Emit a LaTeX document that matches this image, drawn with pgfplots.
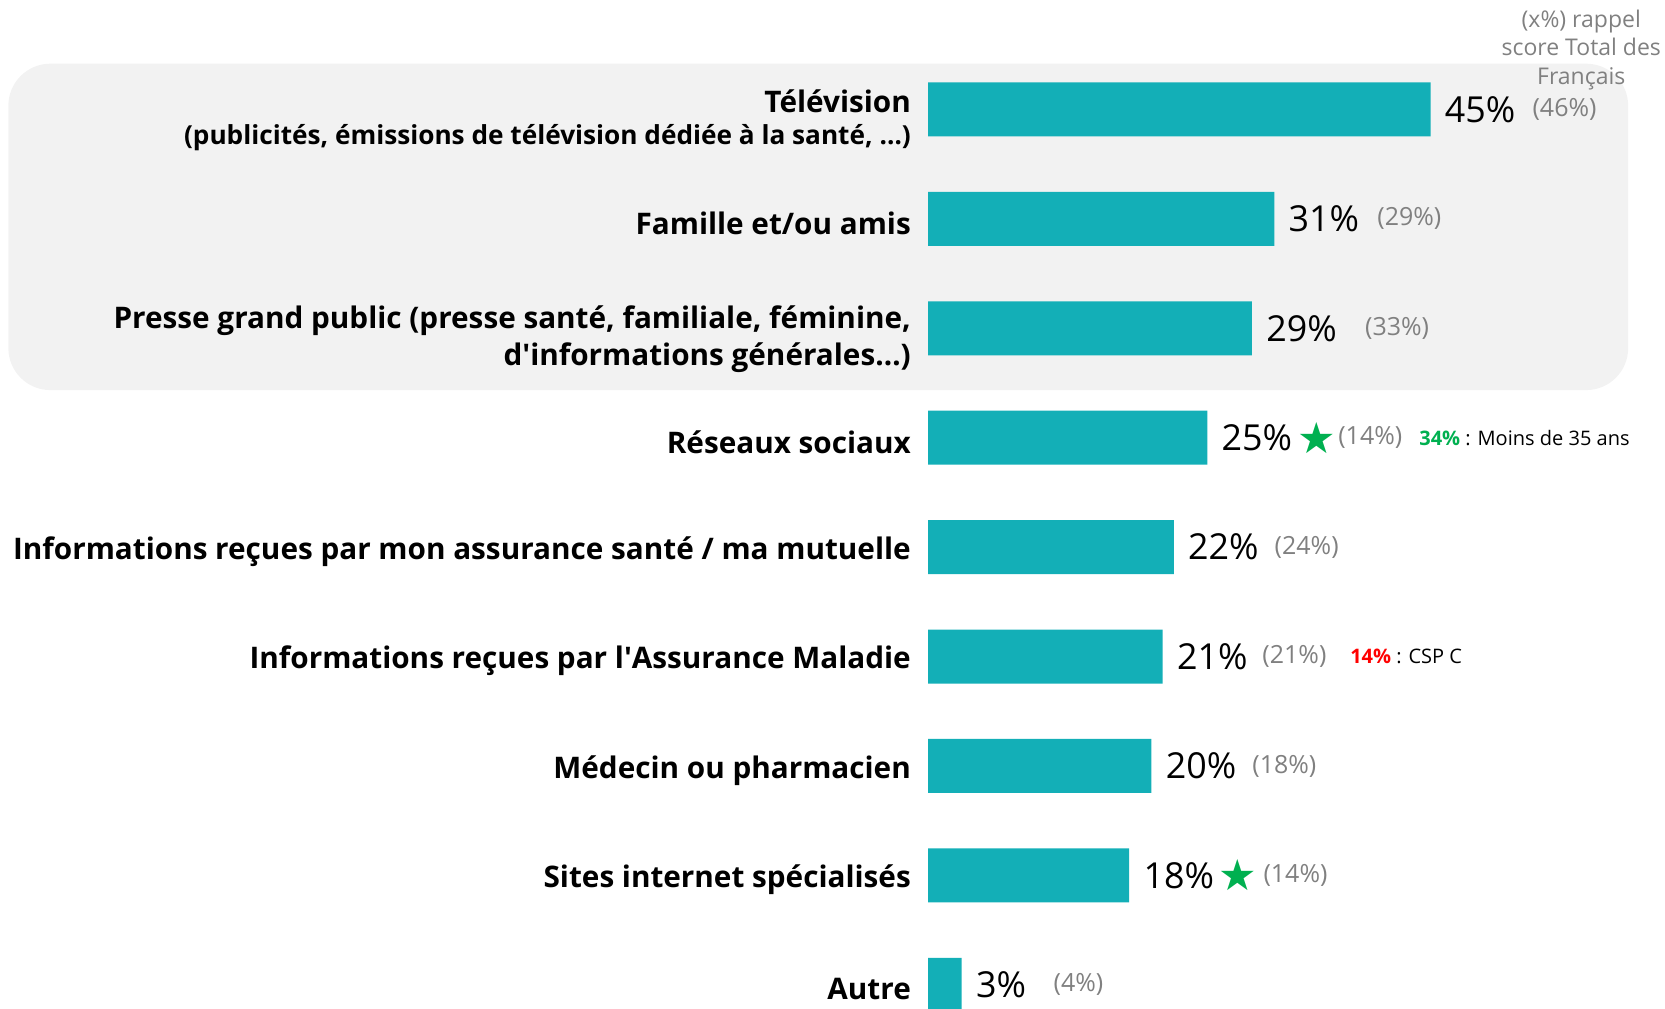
\documentclass[border=0pt]{standalone}
\usepackage{fontspec}
\setmainfont{Open Sans}
\newfontfamily\symfont{DejaVu Sans}
\usepackage{pgfplots}
\usepackage{pgfplotstable}
\pgfplotsset{compat=1.18}

\definecolor{barteal}{RGB}{19,175,183}
\definecolor{panelgray}{RGB}{242,242,242}
\definecolor{txtgray}{RGB}{128,128,128}
\definecolor{stargreen}{RGB}{0,176,80}
\definecolor{notered}{RGB}{255,0,0}

% score of the sub-population, one row per category (0 = top)
\pgfplotstableread{
row val
0 45
1 31
2 29
3 25
4 22
5 21
6 20
7 18
8 3
}\scores

% reminder of the total score, with the x where its text starts
\pgfplotstableread{
pos row lab
54.1 0 (46\%)
40.2 1 (29\%)
39.1 2 (33\%)
36.7 3 (14\%)
31.0 4 (24\%)
29.9 5 (21\%)
29.0 6 (18\%)
30.0 7 (14\%)
11.2 8 (4\%)
}\rappel

\begin{document}
\begin{tikzpicture}
\begin{axis}[
    set layers=standard,
    scale only axis,
    width=368.3pt, height=504pt,
    xmin=0, xmax=66, ymin=-1, ymax=8.214,
    y dir=reverse,
    clip mode=individual,
    axis line style={draw=none},
    tick style={draw=none},
    xtick=\empty,
    ytick={1,3,4,5,6,7,8},
    yticklabels={
      {Famille et/ou amis},
      {Réseaux sociaux},
      {Informations reçues par mon assurance santé / ma mutuelle},
      {Informations reçues par l\textquotesingle Assurance Maladie},
      {Médecin ou pharmacien},
      {Sites internet spécialisés},
      {Autre}},
    yticklabel style={anchor=east, align=right, inner sep=0pt, xshift=-8.5pt, yshift=-2.2pt,
      font=\bfseries\fontsize{14.85}{18.5}\selectfont, text=black},
    extra y ticks={0,2},
    extra y tick labels={
      {Télévision\\[-2.5pt]{\fontsize{13.1}{17.5}\selectfont (publicités, émissions de télévision dédiée à la santé, \ldots)}},
      {Presse grand public (presse santé, familiale, féminine,\\d\textquotesingle informations générales\ldots)}},
    extra y tick style={yticklabel style={yshift=-3.4pt}},
    bar width=27pt,
]
% grey panel behind the first three rows
\begin{pgfonlayer}{axis background}
\fill[panelgray, rounded corners=21pt] (axis cs:-82.4,-0.418) rectangle (axis cs:62.7,2.565);
\end{pgfonlayer}
\coordinate (pagebl) at (axis cs:-83.15,8.214);
\coordinate (pagetr) at (axis cs:66,-1);

\addplot[xbar, fill=barteal, draw=none,
    nodes near coords={\pgfmathprintnumber{\pgfplotspointmeta}\%},
    nodes near coords style={anchor=west, inner sep=0pt, xshift=7pt,
      font=\fontsize{17.9}{20}\selectfont, text=black,
      /pgf/number format/assume math mode=true},
    point meta=x]
  table[x=val, y=row] {\scores};

\addplot[draw=none, mark=none,
    nodes near coords={\pgfplotspointmeta},
    point meta=explicit symbolic,
    nodes near coords style={anchor=west, inner sep=0pt,
      font=\fontsize{12.5}{14}\selectfont, text=txtgray}]
  table[x=pos, y=row, meta=lab] {\rappel};

% significant differences
\addplot[only marks, mark=text,
    text mark={\symfont\fontsize{21.5}{21.5}\selectfont\textcolor{stargreen}{★}}]
  coordinates {(34.8,3) (27.7,7)};

\node[anchor=west, inner sep=0pt, font=\fontsize{10}{12}\selectfont] at (axis cs:43.96,3)
  {\textcolor{stargreen}{\textbf{34\%}} : Moins de 35 ans};
\node[anchor=west, inner sep=0pt, font=\fontsize{10}{12}\selectfont] at (axis cs:37.77,5)
  {\textcolor{notered}{\textbf{14\%}} : CSP C};

\node[align=center, inner sep=0pt, text=txtgray, font=\fontsize{11.5}{14.3}\selectfont]
  at (axis cs:58.5,-0.545) {(x\%) rappel\\score Total des\\Français};
\end{axis}
\pgfresetboundingbox
\path (pagebl) rectangle (pagetr);
\end{tikzpicture}
\end{document}
